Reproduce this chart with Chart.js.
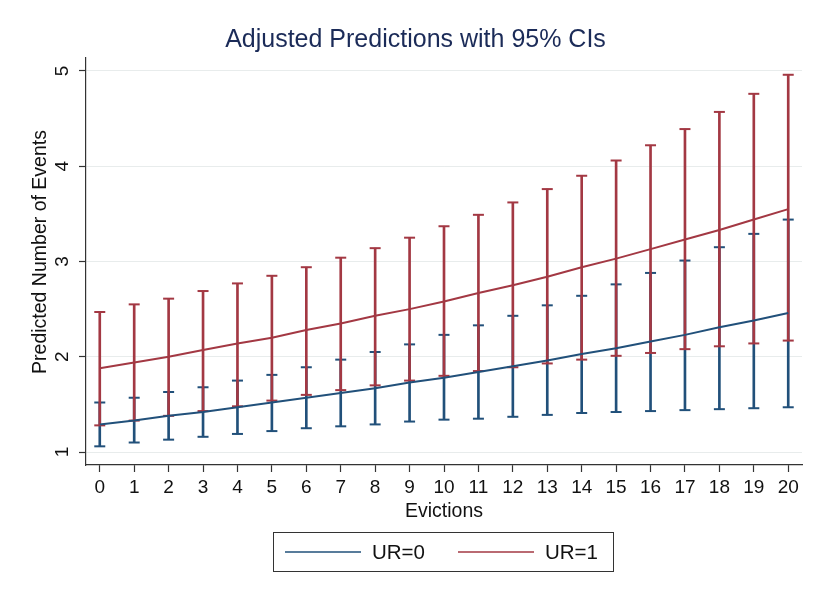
<!DOCTYPE html>
<html>
<head>
<meta charset="utf-8">
<title>Adjusted Predictions with 95% CIs</title>
<script src="https://cdn.jsdelivr.net/npm/chart.js@4.4.1/dist/chart.umd.min.js"></script>
<style>
    html, body { margin: 0; padding: 0; background: #fff; }
    #wrap { width: 813px; height: 595px; }
</style>
</head>
<body>
<div id="wrap"><canvas id="chart" width="813" height="595"></canvas></div>
<script>
// values
const evictions = [0, 1, 2, 3, 4, 5, 6, 7, 8, 9, 10, 11, 12, 13, 14, 15, 16, 17, 18, 19, 20];
const yTicks = [1, 2, 3, 4, 5];

const ur0Fit = [1.29, 1.33, 1.38, 1.42, 1.47, 1.52, 1.57, 1.62, 1.67, 1.73, 1.78, 1.84, 1.90, 1.96, 2.03, 2.09, 2.16, 2.23, 2.31, 2.38, 2.46];
const ur0Lo  = [1.06, 1.10, 1.13, 1.16, 1.19, 1.22, 1.25, 1.27, 1.29, 1.32, 1.34, 1.35, 1.37, 1.39, 1.41, 1.42, 1.43, 1.44, 1.45, 1.46, 1.47];
const ur0Hi  = [1.52, 1.57, 1.63, 1.68, 1.75, 1.81, 1.89, 1.97, 2.05, 2.13, 2.23, 2.33, 2.43, 2.54, 2.64, 2.76, 2.88, 3.01, 3.15, 3.29, 3.44];

const ur1Fit = [1.88, 1.94, 2.00, 2.07, 2.14, 2.20, 2.28, 2.35, 2.43, 2.50, 2.58, 2.67, 2.75, 2.84, 2.94, 3.03, 3.13, 3.23, 3.33, 3.44, 3.55];
const ur1Lo  = [1.28, 1.33, 1.38, 1.43, 1.48, 1.54, 1.60, 1.65, 1.70, 1.75, 1.80, 1.85, 1.89, 1.93, 1.97, 2.01, 2.04, 2.08, 2.11, 2.14, 2.17];
const ur1Hi  = [2.47, 2.55, 2.61, 2.69, 2.77, 2.85, 2.94, 3.04, 3.14, 3.25, 3.37, 3.49, 3.62, 3.76, 3.90, 4.06, 4.22, 4.39, 4.57, 4.76, 4.96];

const chartTitle = 'Adjusted Predictions with 95% CIs';
const xTitle = 'Evictions';
const yTitle = 'Predicted Number of Events';

const BLUE = '#21507a';
const RED = '#a33843';
const FONT = '"Liberation Sans", Arial, Helvetica, sans-serif';

Chart.defaults.font.family = FONT;
Chart.defaults.color = '#111';

function points(ys) {
    return evictions.map((x, i) => ({ x: x, y: ys[i] }));
}

function spikes(lo, hi) {
    return evictions.map((x, i) => ({ x: x, y: [lo[i], hi[i]] }));
}

function caps(lo, hi) {
    const out = [];
    evictions.forEach((x, i) => {
        out.push({ x: x, y: lo[i] });
        out.push({ x: x, y: hi[i] });
    });
    return out;
}

// title, y axis title and the boxed legend, stata style
const extras = {
    id: 'extras',
    afterDraw(chart) {
        const ctx = chart.ctx;

        ctx.save();
        ctx.font = '25px ' + FONT;
        ctx.fillStyle = '#1b2b58';
        ctx.textAlign = 'center';
        ctx.textBaseline = 'middle';
        ctx.fillText(chartTitle, 415.5, 40);
        ctx.restore();

        ctx.save();
        ctx.font = '19.5px ' + FONT;
        ctx.fillStyle = '#111';
        ctx.textAlign = 'center';
        ctx.textBaseline = 'middle';
        ctx.translate(41, 252);
        ctx.rotate(-Math.PI / 2);
        ctx.fillText(yTitle, 0, 0);
        ctx.restore();

        const box = { left: 273, top: 532, width: 340, height: 39 };
        ctx.save();
        ctx.strokeStyle = '#333';
        ctx.lineWidth = 1;
        ctx.strokeRect(box.left + 0.5, box.top + 0.5, box.width, box.height);
        const midY = box.top + box.height / 2 + 0.5;
        const entries = chart.data.datasets.filter(d => d.legend);
        ctx.font = '20.5px ' + FONT;
        ctx.fillStyle = '#111';
        ctx.textBaseline = 'middle';
        entries.forEach((d, k) => {
            const x0 = box.left + 12 + k * 173;
            ctx.strokeStyle = d.borderColor;
            ctx.lineWidth = 1.6;
            ctx.beginPath();
            ctx.moveTo(x0, midY);
            ctx.lineTo(x0 + 76, midY);
            ctx.stroke();
            ctx.fillText(d.label, x0 + 87, midY + 1);
        });
        ctx.restore();
    }
};

new Chart(document.getElementById('chart'), {
    type: 'line',
    data: {
        datasets: [
            {
                type: 'line', label: 'UR=0', legend: true, data: points(ur0Fit),
                borderColor: BLUE, borderWidth: 2, pointRadius: 0, tension: 0, fill: false, order: 0
            },
            {
                type: 'line', label: 'UR=1', legend: true, data: points(ur1Fit),
                borderColor: RED, borderWidth: 2, pointRadius: 0, tension: 0, fill: false, order: 0
            },
            {
                type: 'bar', label: 'UR=1 CI', data: spikes(ur1Lo, ur1Hi),
                backgroundColor: RED, borderWidth: 0, barThickness: 2, grouped: false, order: 1
            },
            {
                type: 'line', label: 'UR=1 caps', data: caps(ur1Lo, ur1Hi), showLine: false,
                pointStyle: 'line', pointRadius: 5.5, borderColor: RED, borderWidth: 2, order: 1
            },
            {
                type: 'bar', label: 'UR=0 CI', data: spikes(ur0Lo, ur0Hi),
                backgroundColor: BLUE, borderWidth: 0, barThickness: 2, grouped: false, order: 2
            },
            {
                type: 'line', label: 'UR=0 caps', data: caps(ur0Lo, ur0Hi), showLine: false,
                pointStyle: 'line', pointRadius: 5.5, borderColor: BLUE, borderWidth: 2, order: 2
            }
        ]
    },
    options: {
        responsive: false,
        animation: false,
        events: [],
        layout: { padding: { left: 0, right: 11, top: 58, bottom: 70 } },
        plugins: {
            legend: { display: false },
            tooltip: { enabled: false },
            title: { display: false }
        },
        scales: {
            x: {
                type: 'linear',
                min: -0.4,
                max: 20.4,
                offset: false,
                afterBuildTicks: s => { s.ticks = evictions.map(v => ({ value: v })); },
                afterFit: s => { s.height = 60; },
                ticks: { font: { size: 19 }, color: '#111', padding: 4, maxRotation: 0, autoSkip: false },
                grid: { drawOnChartArea: false, offset: false, tickLength: 7, tickColor: '#333', tickWidth: 1.2 },
                border: { color: '#333', width: 1.2 },
                title: { display: true, text: xTitle, font: { size: 19.5 }, color: '#111', padding: { top: 0, bottom: 2 } }
            },
            y: {
                type: 'linear',
                min: 0.864,
                max: 5.136,
                beginAtZero: false,
                afterBuildTicks: s => { s.ticks = yTicks.map(v => ({ value: v })); },
                afterFit: s => { s.width = 86; },
                ticks: { font: { size: 19 }, color: '#111', minRotation: 90, maxRotation: 90, crossAlign: 'center', padding: 11 },
                grid: { color: '#e8ecec', lineWidth: 1, tickColor: '#333', tickLength: 7, tickWidth: 1.2 },
                border: { color: '#333', width: 1.2 }
            }
        }
    },
    plugins: [extras]
});
</script>
</body>
</html>
